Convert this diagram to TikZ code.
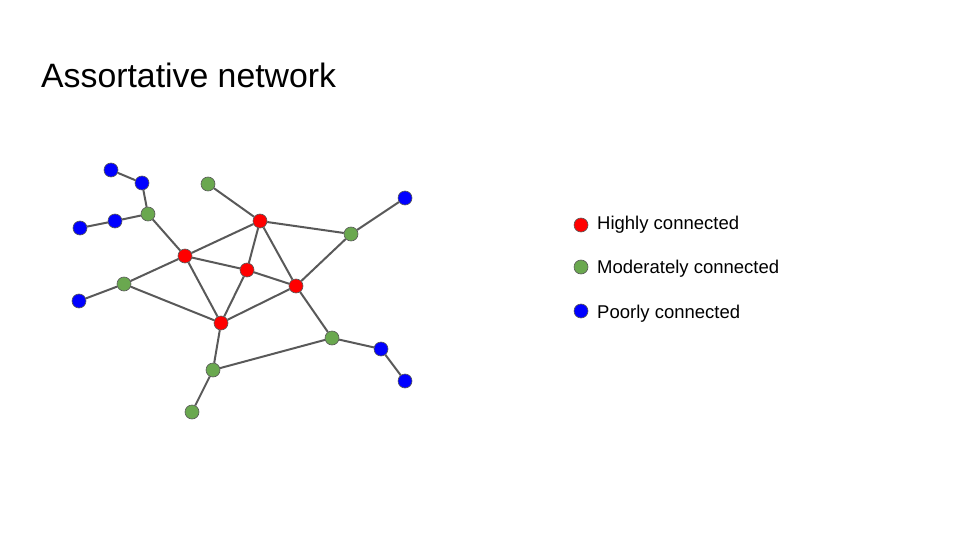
\documentclass[tikz,border=0pt]{standalone}
\usepackage{fontspec}
\setmainfont{Liberation Sans}
\definecolor{hubred}{HTML}{FF0000}
\definecolor{midgreen}{HTML}{6AA84F}
\definecolor{leafblue}{HTML}{0000FF}
\definecolor{linkgray}{HTML}{595959}
\begin{document}
\begin{tikzpicture}[x=1pt, y=-1pt,
  vertex/.style = {shape=circle, draw=linkgray, line width=0.6pt,
    inner sep=0pt, minimum size=14pt},
  high/.style = {vertex, fill=hubred},
  moderate/.style = {vertex, fill=midgreen},
  poor/.style = {vertex, fill=leafblue},
  link/.style = {draw=linkgray, line width=2pt},
  legendtext/.style = {anchor=base west, inner sep=0pt,
    font=\fontsize{18.5}{22}\selectfont}]
  \useasboundingbox (0,0) rectangle (960,540);
  \node[anchor=base west, inner sep=0pt, font=\fontsize{33.8}{40}\selectfont]
    (title) at (41,88) {Assortative network};
  % highly connected
  \node[high] (r1) at (185,256) {};
  \node[high] (r2) at (260,221) {};
  \node[high] (r3) at (247,270) {};
  \node[high] (r4) at (296,286) {};
  \node[high] (r5) at (221,323) {};
  % moderately connected
  \node[moderate] (g1) at (148,214) {};
  \node[moderate] (g2) at (208,184) {};
  \node[moderate] (g3) at (124,284) {};
  \node[moderate] (g4) at (351,234) {};
  \node[moderate] (g5) at (332,338) {};
  \node[moderate] (g6) at (213,370) {};
  \node[moderate] (g7) at (192,412) {};
  % poorly connected
  \node[poor] (b1) at (111,170) {};
  \node[poor] (b2) at (142,183) {};
  \node[poor] (b3) at (115,221) {};
  \node[poor] (b4) at (80,228) {};
  \node[poor] (b5) at (79,301) {};
  \node[poor] (b6) at (405,198) {};
  \node[poor] (b7) at (381,349) {};
  \node[poor] (b8) at (405,381) {};
  % links
  \path[link] (b1) -- (b2) (b2) -- (g1) (b4) -- (b3) (b3) -- (g1)
    (g1) -- (r1) (g2) -- (r2) (b5) -- (g3) (g3) -- (r1) (g3) -- (r5)
    (r1) -- (r2) (r1) -- (r3) (r1) -- (r5) (r2) -- (r3) (r2) -- (r4)
    (r2) -- (g4) (g4) -- (b6) (r3) -- (r4) (r3) -- (r5) (r4) -- (r5)
    (r4) -- (g4) (r4) -- (g5) (g5) -- (b7) (b7) -- (b8) (g5) -- (g6)
    (r5) -- (g6) (g6) -- (g7);
  % legend
  \node[high] (keyhigh) at (581,225) {};
  \node[moderate] (keymoderate) at (581,267) {};
  \node[poor] (keypoor) at (581,311) {};
  \node[legendtext] (labelhigh) at (597,229) {Highly connected};
  \node[legendtext] (labelmoderate) at (597,273) {Moderately connected};
  \node[legendtext] (labelpoor) at (597,318) {Poorly connected};
\end{tikzpicture}
\end{document}
